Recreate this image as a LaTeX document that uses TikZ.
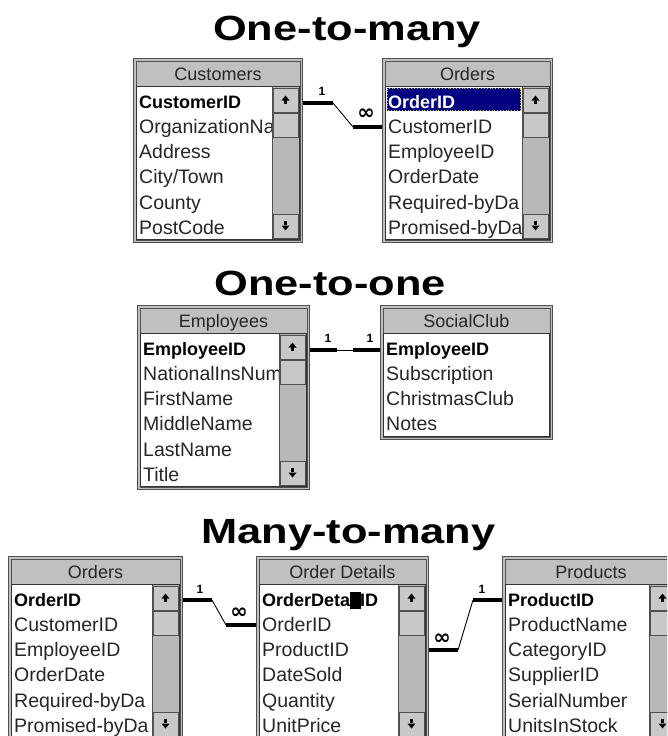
\documentclass[tikz,border=0pt]{standalone}
\usepackage{fontspec}
\setmainfont{Liberation Sans}
\newfontfamily\symfont{DejaVu Sans}
\usepackage{graphicx}
\definecolor{framefill}{HTML}{C0C0C0}
\definecolor{frameC}{HTML}{505050}
\definecolor{headfill}{HTML}{C0C0C0}
\definecolor{trackfill}{HTML}{B8B8B8}
\definecolor{btnfill}{HTML}{C8C8C8}
\definecolor{selblue}{HTML}{000080}
\tikzset{
  frameline/.style={draw=frameC, line width=1pt},
  listline/.style={draw=black!80, line width=1pt},
  headtext/.style={font=\fontsize{18}{20}\selectfont, text=black!85, inner sep=0},
  rowtext/.style={font=\fontsize{19.5}{21}\selectfont, text=black!85, anchor=base west, inner sep=0},
  keytext/.style={font=\fontsize{18}{21}\selectfont\bfseries, text=black, anchor=base west, inner sep=0},
  fatlink/.style={line width=3.2pt, draw=black},
  thinlink/.style={line width=0.9pt, draw=black},
  card/.style={font=\fontsize{12}{12}\selectfont\bfseries, inner sep=0},
  inf/.style={font=\symfont\bfseries\fontsize{21}{21}\selectfont, inner sep=0},
  titletext/.style={font=\fontsize{35}{40}\selectfont\bfseries, inner sep=0, anchor=base},
}
% #1 name, #2 x0, #3 y0, #4 x1, #5 y1, #6 title
\newcommand{\dbframe}[6]{%
  \fill[framefill] (#2,#3) rectangle (#4,#5);
  \draw[frameline] (#2+0.5,#3+0.5) rectangle (#4-0.5,#5-0.5);
  \draw[frameline] (#2+3,#3+3) rectangle (#4-3,#5-3);
  \fill[headfill] (#2+3.5,#3+3.5) rectangle (#4-3.5,#3+27.5);
  \draw[frameline] (#2+3,#3+28) -- (#4-3,#3+28);
  \fill[white] (#2+4,#3+29) rectangle (#4-4,#5-4);
  \draw[listline] (#2+3.5,#3+28.5) rectangle (#4-3.5,#5-3.5);
  \node[headtext, anchor=base] (#1-head) at ({(#2+#4)/2},#3+22) {#6};
}
% #1 name, #2 x0, #3 y0, #4 clip right x, #5 y1, #6 key text, #7 other rows
\newcommand{\dbrows}[7]{%
  \begin{scope}
    \clip (#2+4,#3+29) rectangle (#4,#5-4);
    \node[keytext] (#1-1) at (#2+6,#3+50) {#6};
    \foreach \t [count=\i from 2] in {#7} {
      \node[rowtext] (#1-\i) at (#2+6,{#3+50+25.3*(\i-1)}) {\t};
    }
  \end{scope}
}
% #1 x1, #2 y0, #3 y1
\newcommand{\dbscroll}[3]{%
  \fill[trackfill] (#1-31,#2+29) rectangle (#1-4,#3-4);
  \draw[frameline] (#1-31,#2+29) -- (#1-31,#3-4);
  \filldraw[fill=btnfill, draw=frameC, line width=0.8pt] (#1-30,#2+30) rectangle (#1-5,#2+54);
  \filldraw[fill=btnfill, draw=frameC, line width=0.8pt] (#1-30,#2+55) rectangle (#1-5,#2+79);
  \filldraw[fill=btnfill, draw=frameC, line width=0.8pt] (#1-30,#3-29) rectangle (#1-5,#3-5);
  \fill[black] (#1-21.5,#2+42.5) -- (#1-13.5,#2+42.5) -- (#1-17.5,#2+37.5) -- cycle;
  \fill[black] (#1-19,#2+42) rectangle (#1-16,#2+46);
  \fill[black] (#1-21.5,#3-17.5) -- (#1-13.5,#3-17.5) -- (#1-17.5,#3-12.5) -- cycle;
  \fill[black] (#1-19,#3-18) rectangle (#1-16,#3-22);
}
\begin{document}
\begin{tikzpicture}[x=1pt,y=-1pt]
\useasboundingbox (0,0) rectangle (667,736);
\clip (0,0) rectangle (667,736);
\fill[white] (0,0) rectangle (667,736);

% titles
\node[titletext] (t1) at (347,40) {\scalebox{1.24}[1]{One-to-many}};
\node[titletext] (t2) at (330,295) {\scalebox{1.24}[1]{One-to-one}};
\node[titletext] (t3) at (348.5,543) {\scalebox{1.24}[1]{Many-to-many}};

% ---------- One-to-many ----------
\dbframe{cust}{133}{58}{303}{243}{Customers}
\dbrows{cust}{133}{58}{272}{243}{CustomerID}{OrganizationNa,Address,City/Town,County,PostCode}
\dbscroll{303}{58}{243}

\dbframe{ordA}{382}{58}{553}{243}{Orders}
\fill[selblue] (387,88) rectangle (521,111);
\draw[yellow!80!black, dotted, line width=0.8pt] (387.5,88.5) rectangle (520.5,110.5);
\dbrows{ordA}{382}{58}{521}{243}{\textcolor{white}{OrderID}}{CustomerID,EmployeeID,OrderDate,Required-byDa,Promised-byDa}
\dbscroll{553}{58}{243}

\coordinate (cust-key) at (303,103);
\coordinate (a1) at (333,103);
\coordinate (a2) at (353,127);
\coordinate (ordA-fk) at (382,127);
\draw[fatlink] (cust-key) -- (a1);
\draw[thinlink] (a1) -- (a2);
\draw[fatlink] (a2) -- (ordA-fk);
\node[card] (l1) at (322,91) {1};
\node[inf] (l2) at (366,114) {∞};

% ---------- One-to-one ----------
\dbframe{emp}{137}{305}{310}{490}{Employees}
\dbrows{emp}{137}{305}{279}{490}{EmployeeID}{NationalInsNum,FirstName,MiddleName,LastName,Title}
\dbscroll{310}{305}{490}

\dbframe{soc}{380}{305}{553}{440}{SocialClub}
\dbrows{soc}{380}{305}{549}{440}{EmployeeID}{Subscription,ChristmasClub,Notes}

\coordinate (emp-key) at (310,350);
\coordinate (b1) at (337,350);
\coordinate (b2) at (353,350);
\coordinate (soc-key) at (380,350);
\draw[fatlink] (emp-key) -- (b1);
\draw[thinlink] (b1) -- (b2);
\draw[fatlink] (b2) -- (soc-key);
\node[card] (l3) at (328,338) {1};
\node[card] (l4) at (370,338) {1};

% ---------- Many-to-many ----------
\dbframe{ordB}{8}{556}{183}{741}{Orders}
\dbrows{ordB}{8}{556}{152}{741}{OrderID}{CustomerID,EmployeeID,OrderDate,Required-byDa,Promised-byDa}
\dbscroll{183}{556}{741}

\dbframe{det}{256}{556}{429}{741}{Order Details}
\dbrows{det}{256}{556}{398}{741}{OrderDeta\makebox[0pt][l]{\rule[-3pt]{10.5pt}{17pt}}ilID}{OrderID,ProductID,DateSold,Quantity,UnitPrice}
\dbscroll{429}{556}{741}

\dbframe{prod}{502}{556}{680}{741}{Products}
\dbrows{prod}{502}{556}{649}{741}{ProductID}{ProductName,CategoryID,SupplierID,SerialNumber,UnitsInStock}
\dbscroll{680}{556}{741}

\coordinate (ordB-key) at (183,600);
\coordinate (c1) at (212,600);
\coordinate (c2) at (226,625);
\coordinate (det-fk1) at (256,625);
\draw[fatlink] (ordB-key) -- (c1);
\draw[thinlink] (c1) -- (c2);
\draw[fatlink] (c2) -- (det-fk1);
\node[card] (l5) at (200,589) {1};
\node[inf] (l6) at (239,613) {∞};

\coordinate (det-fk2) at (429,650);
\coordinate (d1) at (458,650);
\coordinate (d2) at (473,600);
\coordinate (prod-key) at (502,600);
\draw[fatlink] (det-fk2) -- (d1);
\draw[thinlink] (d1) -- (d2);
\draw[fatlink] (d2) -- (prod-key);
\node[inf] (l7) at (442,639) {∞};
\node[card] (l8) at (482,589) {1};
\end{tikzpicture}
\end{document}
